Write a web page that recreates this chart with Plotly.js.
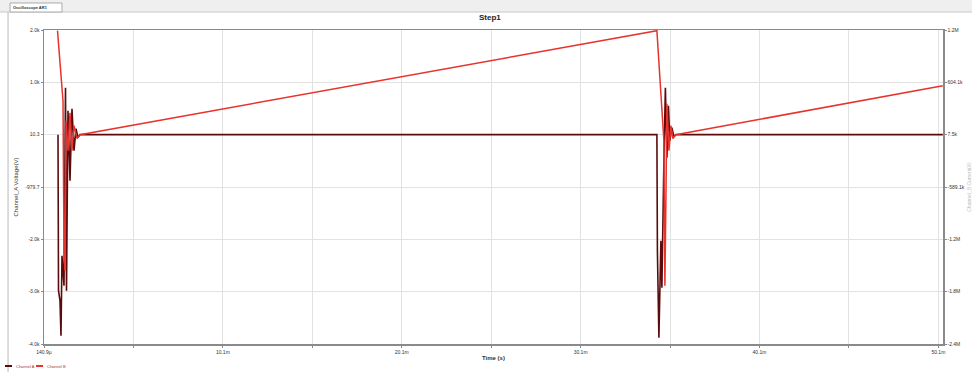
<!DOCTYPE html>
<html>
<head>
<meta charset="utf-8">
<script src="https://cdn.plot.ly/plotly-3.0.1.min.js"></script>
<style>html,body{margin:0;padding:0;background:#fff;}#chart{width:972px;height:372px;}</style>
</head>
<body>
<div id="chart"></div>
<script>
// Time in ms
var timeA = [0.895, 1.202, 1.258, 1.314, 1.370, 1.482, 1.593, 1.705, 1.817, 1.985, 2.152,
             34.405, 34.796, 34.824, 34.852, 34.908, 34.964, 35.076, 35.187, 35.299, 35.467, 50.39];
// Ramp channel (right axis, k units)
var rampA = [1193, 395, -1315, -1543, 167, -175, 258, -175, 110, -38, 7.5,
             1193, -61, -1087, -1714, -745, 361, -175, 110, -38, 7.5, 566];

var timeB = [0.923, 0.951, 1.034, 1.090, 1.146, 1.258, 1.342, 1.398, 1.482, 1.593, 1.705, 1.817, 1.929, 2.041, 2.152,
             34.405, 34.433, 34.517, 34.628, 34.684, 34.796, 34.880, 34.964, 35.048, 35.131, 35.243, 35.355, 35.467, 50.39];
// Flat channel with spikes (left axis, V)
var voltB = [10.3, -2941, -3130, -3793, -2279, -2847, 899, -2941, 464, -860, 502, -292, 124, -46, 10.3,
             10.3, -2184, -3831, -1995, -2885, -482, 899, -425, 559, -103, 143, -28, 10.3, 10.3];

var xTickVals = [0.14, 5.14, 10.14, 15.14, 20.14, 25.14, 30.14, 35.14, 40.14, 45.14, 50.14];
var xTickText = ['140.9µ', '', '10.1m', '', '20.1m', '', '30.1m', '', '40.1m', '', '50.1m'];
var yLeftVals = [-3949.7, -2959.7, -1969.7, -979.7, 10.3, 1000.3, 1990.3];
var yLeftText = ['-4.0k', '-3.0k', '-2.0k', '-979.7', '10.3', '1.0k', '2.0k'];
var yRightVals = [-2378.9, -1782.3, -1185.7, -589.1, 7.5, 604.1, 1200.7];
var yRightText = ['-2.4M', '-1.8M', '-1.2M', '-589.1k', '7.5k', '604.1k', '1.2M'];
var seriesNames = ['Channel A', 'Channel B'];
var seriesColors = ['#5a0c0c', '#e8322c'];

var F = 'Liberation Sans, Arial, sans-serif';

var traces = [
  {x: timeB, y: voltB, type: 'scatter', mode: 'lines', name: seriesNames[0],
   line: {color: seriesColors[0], width: 1.6}, yaxis: 'y'},
  {x: timeA, y: rampA, type: 'scatter', mode: 'lines', name: seriesNames[1],
   line: {color: seriesColors[1], width: 1.5}, yaxis: 'y2'}
];

var layout = {
  width: 972, height: 372,
  margin: {l: 44, r: 29, t: 30, b: 28, autoexpand: false},
  paper_bgcolor: '#ffffff', plot_bgcolor: '#ffffff',
  font: {family: F, size: 6, color: '#222'},
  title: {text: '<b>Step1</b>', font: {family: F, size: 8, color: '#222'}, x: 0.504, xanchor: 'center', y: 0.955, yanchor: 'middle'},
  showlegend: false,
  xaxis: {
    range: [0.14, 50.4], tickmode: 'array', tickvals: xTickVals, ticktext: xTickText,
    showgrid: true, gridcolor: '#e2e2e2', gridwidth: 1, zeroline: false,
    showline: true, linecolor: '#8a8a8a', linewidth: 1.5, mirror: true,
    ticks: 'outside', ticklen: 2, tickcolor: '#8a8a8a',
    tickfont: {size: 5, color: '#333'},
    title: {text: '<b>Time (s)</b>', font: {size: 6, color: '#333'}, standoff: 2}
  },
  yaxis: {
    range: [-3949.7, 1990.3], tickmode: 'array', tickvals: yLeftVals, ticktext: yLeftText,
    showgrid: true, gridcolor: '#e2e2e2', zeroline: false,
    showline: true, linecolor: '#8a8a8a', linewidth: 1.5, mirror: true,
    ticks: 'outside', ticklen: 2, tickcolor: '#8a8a8a',
    tickfont: {size: 5, color: '#333'},
    title: {text: 'Channel_A Voltage(V)', font: {size: 6, color: '#333'}, standoff: 6}
  },
  yaxis2: {
    range: [-2378.9, 1200.7], tickmode: 'array', tickvals: yRightVals, ticktext: yRightText,
    overlaying: 'y', side: 'right', showgrid: false, zeroline: false,
    showline: true, linecolor: '#8a8a8a', linewidth: 1.5,
    ticks: 'outside', ticklen: 2, tickcolor: '#8a8a8a',
    tickfont: {size: 5, color: '#333'},
    title: {text: 'Channel_B Current(A)', font: {size: 5, color: '#bbb'}, standoff: 4}
  },
  shapes: [
    {type: 'rect', xref: 'paper', yref: 'paper', x0: -0.0489, x1: 1.0323, y0: 1.0573, y1: 1.0955,
     fillcolor: '#efefef', line: {width: 0}, layer: 'below'},
    {type: 'line', xref: 'paper', yref: 'paper', x0: -0.0489, x1: 1.0323, y0: 1.0573, y1: 1.0573,
     line: {color: '#c8c8c8', width: 1}},
    {type: 'rect', xref: 'paper', yref: 'paper', x0: -0.0378, x1: 0.0200, y0: 1.0573, y1: 1.0860,
     fillcolor: '#ffffff', line: {color: '#aaaaaa', width: 1}},
    {type: 'line', xref: 'paper', yref: 'paper', x0: -0.0400, x1: -0.0400, y0: 1.0573, y1: -0.0892,
     line: {color: '#b8b8b8', width: 1}},
    // legend icons
    {type: 'line', xref: 'paper', yref: 'paper', x0: -0.0434, x1: -0.0356, y0: -0.0701, y1: -0.0701,
     line: {color: seriesColors[0], width: 2}},
    {type: 'line', xref: 'paper', yref: 'paper', x0: -0.0089, x1: -0.0011, y0: -0.0701, y1: -0.0701,
     line: {color: seriesColors[1], width: 2}}
  ],
  annotations: [
    {xref: 'paper', yref: 'paper', x: -0.0367, y: 1.0716, xanchor: 'left', yanchor: 'middle', showarrow: false,
     text: '<b>Oscilloscope AR1</b>', font: {size: 4, color: '#333'}},
    {xref: 'paper', yref: 'paper', x: -0.0334, y: -0.0701, xanchor: 'left', yanchor: 'middle', showarrow: false,
     text: seriesNames[0], font: {size: 4, color: '#a33'}},
    {xref: 'paper', yref: 'paper', x: 0.0011, y: -0.0701, xanchor: 'left', yanchor: 'middle', showarrow: false,
     text: seriesNames[1], font: {size: 4, color: '#a33'}}
  ]
};

Plotly.newPlot('chart', traces, layout, {displayModeBar: false, staticPlot: true});
</script>
</body>
</html>
